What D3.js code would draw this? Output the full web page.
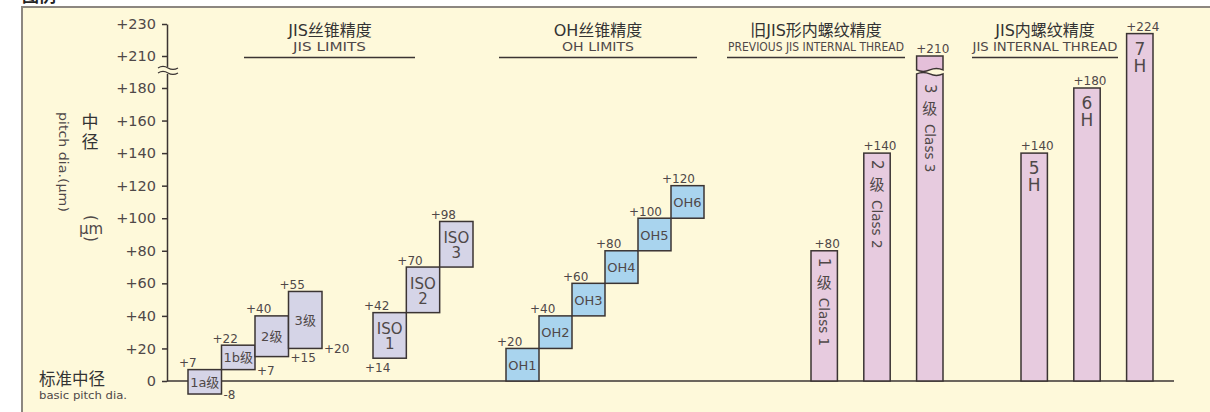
<!DOCTYPE html>
<html>
<head>
<meta charset="utf-8">
<script src="https://cdn.jsdelivr.net/npm/d3@7"></script>
<style>
  body { margin: 0; background: #ffffff; }
  svg { display: block; }
  text { font-family: "DejaVu Sans", "Noto Sans CJK SC", sans-serif; fill: #4f4848; }
  .cjk { font-family: "Noto Sans CJK SC", sans-serif; }
</style>
</head>
<body>
<div id="chart"></div>
<script>
// Data
var yTicks = [0, 20, 40, 60, 80, 100, 120, 140, 160, 180, 210, 230];

var jisNames = ['1a级', '1b级', '2级', '3级'];
var jisLow = [-8, 7, 15, 20];
var jisHigh = [7, 22, 40, 55];

var isoNames = ['ISO 1', 'ISO 2', 'ISO 3'];
var isoLow = [14, 42, 70];
var isoHigh = [42, 70, 98];

var ohNames = ['OH1', 'OH2', 'OH3', 'OH4', 'OH5', 'OH6'];
var ohLow = [0, 20, 40, 60, 80, 100];
var ohHigh = [20, 40, 60, 80, 100, 120];

var classNames = ['1级', '2级', '3级'];
var classSub = ['Class 1', 'Class 2', 'Class 3'];
var classHigh = [80, 140, 210];

var hNames = ['5H', '6H', '7H'];
var hHigh = [140, 180, 224];

var groupTitles = ['JIS丝锥精度', 'OH丝锥精度', '旧JIS形内螺纹精度', 'JIS内螺纹精度'];
var groupSubs = ['JIS LIMITS', 'OH LIMITS', 'PREVIOUS JIS INTERNAL THREAD', 'JIS INTERNAL THREAD'];

// Layout
var width = 1210, height = 412;
var cream = '#fef9da';
var ink = '#3b3433';
var breakAt = 196;   // value where the axis is broken

var svg = d3.select('#chart').append('svg')
    .attr('width', width)
    .attr('height', height);

// cut-off heading above the panel
svg.append('text')
    .attr('class', 'cjk')
    .attr('x', 22)
    .attr('y', 2)
    .style('font-size', '17px')
    .style('font-weight', 'bold')
    .style('fill', '#222')
    .text('图例');

// panel
svg.append('rect')
    .attr('x', 22)
    .attr('y', 7)
    .attr('width', 1210)
    .attr('height', 420)
    .attr('fill', cream)
    .attr('stroke', '#8c8780')
    .attr('stroke-width', 2);

// Scales (broken axis between 180 and 210)
var y = d3.scaleLinear()
    .domain([0, 180, 210, 230])
    .range([381, 88, 56, 24]);

var xJis = d3.scaleBand().domain(jisNames).range([188, 322]).padding(0);
var xIso = d3.scaleBand().domain(isoNames).range([373, 473]).padding(0);
var xOh = d3.scaleBand().domain(ohNames).range([506, 704]).padding(0);
var xClass = d3.scaleBand().domain(classNames).range([811, 943]).paddingInner(0.5).paddingOuter(0);
var xH = d3.scaleBand().domain(hNames).range([1021, 1153]).paddingInner(0.5).paddingOuter(0);

function sign(v) { return v > 0 ? '+' + v : String(v); }

// Y axis
var yAxis = svg.append('g')
    .attr('class', 'y_axis')
    .attr('transform', 'translate(167,0)')
    .call(d3.axisLeft(y).tickValues(yTicks).tickSize(5).tickSizeOuter(0).tickPadding(6)
        .tickFormat(function (d) { return d === 0 ? '0' : '+' + d; }));
yAxis.select('.domain').attr('stroke', ink).attr('stroke-width', 1.5);
yAxis.selectAll('.tick line').attr('stroke', ink).attr('stroke-width', 1.5);
yAxis.selectAll('.tick text')
    .style('font-size', '14.5px')
    .style('font-family', '"DejaVu Sans", sans-serif')
    .attr('fill', '#555');

// X baseline
svg.append('line')
    .attr('x1', 167).attr('x2', 1174)
    .attr('y1', y(0)).attr('y2', y(0))
    .attr('stroke', ink)
    .attr('stroke-width', 1.5);

// axis break mark
var yb = y(breakAt);
svg.append('rect')
    .attr('x', 162).attr('y', yb - 4)
    .attr('width', 10).attr('height', 7)
    .attr('fill', cream);
[-3, 2].forEach(function (o) {
    svg.append('path')
        .attr('d', 'M158,' + (yb + o) + ' q5,-3 10,0 t10,0')
        .attr('fill', 'none')
        .attr('stroke', ink)
        .attr('stroke-width', 1.2);
});

// Axis titles
svg.append('text').attr('class', 'cjk').attr('x', 90).attr('y', 128).attr('text-anchor', 'middle')
    .style('font-size', '17px').style('fill', '#333').text('中');
svg.append('text').attr('class', 'cjk').attr('x', 90).attr('y', 148).attr('text-anchor', 'middle')
    .style('font-size', '17px').style('fill', '#333').text('径');
svg.append('text')
    .attr('transform', 'translate(59,112)rotate(90)')
    .attr('textLength', 100)
    .attr('lengthAdjust', 'spacingAndGlyphs')
    .style('font-size', '12.5px')
    .text('pitch dia.(μm)');
svg.append('text')
    .attr('transform', 'translate(91,218)rotate(90)')
    .attr('text-anchor', 'middle')
    .attr('dominant-baseline', 'central')
    .style('font-size', '15px').text('(');
svg.append('text').attr('x', 91).attr('y', 234).attr('text-anchor', 'middle')
    .style('font-size', '15px').text('μm');
svg.append('text')
    .attr('transform', 'translate(91,239)rotate(90)')
    .attr('text-anchor', 'middle')
    .attr('dominant-baseline', 'central')
    .style('font-size', '15px').text(')');
svg.append('text').attr('class', 'cjk').attr('x', 39).attr('y', 385)
    .style('font-size', '16.5px').style('fill', '#333').text('标准中径');
svg.append('text').attr('x', 39).attr('y', 399)
    .attr('textLength', 88)
    .attr('lengthAdjust', 'spacingAndGlyphs')
    .style('font-size', '10.5px').text('basic pitch dia.');

// Group titles
var titleCenter = [330, 598, 816, 1045];
var underline = [[244, 415], [499, 697], [727, 905], [972, 1118]];
var subLength = [73, 72, 176, 145];

groupTitles.forEach(function (t, i) {
    svg.append('text')
        .attr('x', titleCenter[i]).attr('y', 36)
        .attr('text-anchor', 'middle')
        .style('font-size', '16px')
        .style('fill', '#333')
        .text(t);
    svg.append('text')
        .attr('x', (underline[i][0] + underline[i][1]) / 2).attr('y', 51)
        .attr('text-anchor', 'middle')
        .attr('textLength', subLength[i])
        .attr('lengthAdjust', 'spacingAndGlyphs')
        .style('font-size', i === 2 ? '12px' : '13px')
        .text(groupSubs[i]);
    svg.append('line')
        .attr('x1', underline[i][0]).attr('x2', underline[i][1])
        .attr('y1', 57.5).attr('y2', 57.5)
        .attr('stroke', ink)
        .attr('stroke-width', 1.5);
});

// Generic step boxes
function boxes(names, low, high, x, fill, cls) {
    var data = names.map(function (n, i) { return { name: n, low: low[i], high: high[i] }; });
    var g = svg.append('g').attr('class', cls);
    g.selectAll('rect')
        .data(data)
        .enter()
        .append('rect')
        .attr('x', function (d) { return x(d.name); })
        .attr('y', function (d) { return y(d.high); })
        .attr('width', x.bandwidth())
        .attr('height', function (d) { return y(d.low) - y(d.high); })
        .attr('fill', fill)
        .attr('stroke', ink)
        .attr('stroke-width', 1.5);
    // upper limit label
    g.selectAll('.top_label')
        .data(data)
        .enter()
        .append('text')
        .attr('class', 'top_label')
        .attr('x', function (d) { return x(d.name) - 9; })
        .attr('y', function (d) { return y(d.high) - 2.5; })
        .style('font-size', '12px')
        .text(function (d) { return sign(d.high); });
    return { g: g, data: data };
}

// JIS limits
var jis = boxes(jisNames, jisLow, jisHigh, xJis, '#d5d4e7', 'jis');
jis.g.selectAll('.name')
    .data(jis.data)
    .enter()
    .append('text')
    .attr('x', function (d) { return xJis(d.name) + xJis.bandwidth() / 2; })
    .attr('y', function (d) { return (y(d.low) + y(d.high)) / 2 + 5; })
    .attr('text-anchor', 'middle')
    .style('font-size', '13px')
    .text(function (d) { return d.name; });
jis.g.selectAll('.low_label')
    .data(jis.data)
    .enter()
    .append('text')
    .attr('x', function (d) { return xJis(d.name) + xJis.bandwidth() + 2; })
    .attr('y', function (d) { return y(d.low) + 5; })
    .style('font-size', '12px')
    .text(function (d) { return sign(d.low); });

// ISO
var iso = boxes(isoNames, isoLow, isoHigh, xIso, '#d5d4e7', 'iso');
iso.g.selectAll('.name')
    .data(iso.data)
    .enter()
    .append('text')
    .attr('x', function (d) { return xIso(d.name) + xIso.bandwidth() / 2; })
    .attr('y', function (d) { return (y(d.low) + y(d.high)) / 2 - 1; })
    .attr('text-anchor', 'middle')
    .style('font-size', '15px')
    .each(function (d) {
        var parts = d.name.split(' ');
        d3.select(this).append('tspan').text(parts[0]);
        d3.select(this).append('tspan')
            .attr('x', xIso(d.name) + xIso.bandwidth() / 2)
            .attr('dy', 15)
            .text(parts[1]);
    });
iso.g.append('text')
    .attr('x', xIso(isoNames[0]) - 8)
    .attr('y', y(isoLow[0]) + 14)
    .style('font-size', '12px')
    .text(sign(isoLow[0]));

// OH
var oh = boxes(ohNames, ohLow, ohHigh, xOh, '#a9d4ee', 'oh');
oh.g.selectAll('.name')
    .data(oh.data)
    .enter()
    .append('text')
    .attr('x', function (d) { return xOh(d.name) + xOh.bandwidth() / 2; })
    .attr('y', function (d) { return (y(d.low) + y(d.high)) / 2 + 5; })
    .attr('text-anchor', 'middle')
    .style('font-size', '13px')
    .text(function (d) { return d.name; });

// Previous JIS internal thread (vertical bars)
var pink = '#e7cbdf';
var classData = classNames.map(function (n, i) { return { name: n, sub: classSub[i], high: classHigh[i] }; });
var gc = svg.append('g').attr('class', 'classes');
classData.forEach(function (d) {
    var x0 = xClass(d.name), w = xClass.bandwidth(), x1 = x0 + w, cx = x0 + w / 2;
    var top = y(d.high);
    var textTop = top;
    if (d.high > breakAt) {
        // broken bar: upper piece and lower piece with wavy edges
        gc.append('path')
            .attr('d', 'M' + x0 + ',' + top + 'L' + x1 + ',' + top + 'L' + x1 + ',' + (yb - 1) +
                'q' + (-w / 4) + ',-3 ' + (-w / 2) + ',0 t' + (-w / 2) + ',0Z')
            .attr('fill', '#e4bfd9')
            .attr('stroke', ink)
            .attr('stroke-width', 1.5);
        gc.append('path')
            .attr('d', 'M' + x0 + ',' + y(0) + 'L' + x0 + ',' + (yb + 3) +
                'q' + (w / 4) + ',-3 ' + (w / 2) + ',0 t' + (w / 2) + ',0L' + x1 + ',' + y(0) + 'Z')
            .attr('fill', pink)
            .attr('stroke', ink)
            .attr('stroke-width', 1.5);
        textTop = yb + 6;
    } else {
        gc.append('rect')
            .attr('x', x0).attr('y', top)
            .attr('width', w).attr('height', y(0) - top)
            .attr('fill', pink)
            .attr('stroke', ink)
            .attr('stroke-width', 1.5);
    }
    gc.append('text')
        .attr('x', cx + 3).attr('y', top - 3)
        .attr('text-anchor', 'middle')
        .style('font-size', '12px')
        .text(sign(d.high));
    // digit (sideways), 级 (upright), Class n (sideways)
    gc.append('text')
        .attr('transform', 'translate(' + cx + ',' + (textTop + 7) + ')rotate(90)')
        .attr('dominant-baseline', 'central')
        .style('font-size', '15px')
        .text(d.name.charAt(0));
    gc.append('text')
        .attr('class', 'cjk')
        .attr('x', cx).attr('y', textTop + 37)
        .attr('text-anchor', 'middle')
        .style('font-size', '15px')
        .text(d.name.slice(1));
    gc.append('text')
        .attr('transform', 'translate(' + cx + ',' + (textTop + 47) + ')rotate(90)')
        .attr('dominant-baseline', 'central')
        .style('font-size', '13.5px')
        .text(d.sub);
});

// JIS internal thread
var hData = hNames.map(function (n, i) { return { name: n, high: hHigh[i] }; });
var gh = svg.append('g').attr('class', 'h_bars');
gh.selectAll('rect')
    .data(hData)
    .enter()
    .append('rect')
    .attr('x', function (d) { return xH(d.name); })
    .attr('y', function (d) { return y(d.high); })
    .attr('width', xH.bandwidth())
    .attr('height', function (d) { return y(0) - y(d.high); })
    .attr('fill', pink)
    .attr('stroke', ink)
    .attr('stroke-width', 1.5);
gh.selectAll('.val')
    .data(hData)
    .enter()
    .append('text')
    .attr('x', function (d) { return xH(d.name) + xH.bandwidth() / 2 + 3; })
    .attr('y', function (d) { return y(d.high) - 3; })
    .attr('text-anchor', 'middle')
    .style('font-size', '12px')
    .text(function (d) { return sign(d.high); });
gh.selectAll('.name')
    .data(hData)
    .enter()
    .append('text')
    .attr('x', function (d) { return xH(d.name) + xH.bandwidth() / 2; })
    .attr('y', function (d) { return y(d.high) + 21; })
    .attr('text-anchor', 'middle')
    .style('font-size', '17px')
    .each(function (d) {
        d3.select(this).append('tspan').text(d.name.charAt(0));
        d3.select(this).append('tspan')
            .attr('x', xH(d.name) + xH.bandwidth() / 2)
            .attr('dy', 17)
            .text(d.name.charAt(1));
    });
</script>
</body>
</html>
